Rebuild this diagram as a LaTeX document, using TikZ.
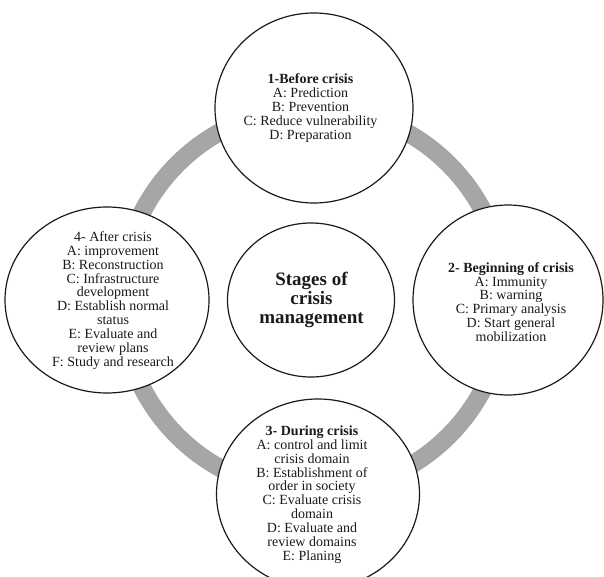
\documentclass[tikz,border=0pt]{standalone}
\usepackage{fontspec}
\setmainfont{Liberation Serif}
\usetikzlibrary{shapes.geometric}
\definecolor{ringgray}{HTML}{A6A6A6}
\definecolor{inkc}{HTML}{1A1A1A}
\begin{document}
\begin{tikzpicture}[x=1pt,y=-1pt,
  stage/.style={ellipse,draw=inkc,line width=1.2pt,fill=white,inner sep=0pt},
  stagetext/.style={align=center,text=inkc,font=\fontsize{14}{13.9}\selectfont,inner sep=0pt},
  hubtext/.style={align=center,text=inkc,font=\fontsize{19}{19}\selectfont\bfseries,inner sep=0pt}]
\useasboundingbox (0,0) rectangle (604,577);
\clip (0,0) rectangle (604,577);
\fill[white] (0,0) rectangle (604,577);
% ring
\draw[ringgray,line width=18pt] (313,300) circle[radius=192];
% stages
\node[stage,minimum width=198pt,minimum height=190pt] (before) at (314,108) {};
\node[stage,minimum width=190pt,minimum height=190pt] (begin) at (508,300) {};
\node[stage,minimum width=203pt,minimum height=190pt] (during) at (318,494) {};
\node[stage,minimum width=204pt,minimum height=186pt] (after) at (107,300) {};
\node[stage,minimum width=167pt,minimum height=154pt] (hub) at (311,300) {};
% texts
\node[stagetext] (beforetext) at (310.5,108) {\textbf{1-Before crisis}\\A: Prediction\\B: Prevention\\C: Reduce vulnerability\\D: Preparation};
\node[stagetext] (begintext) at (511,302) {\textbf{2- Beginning of crisis}\\A: Immunity\\B: warning\\C: Primary analysis\\D: Start general\\mobilization};
\node[stagetext] (duringtext) at (312,494.5) {\textbf{3- During crisis}\\A: control and limit\\crisis domain\\B: Establishment of\\order in society\\C: Evaluate crisis\\domain\\D: Evaluate and\\review domains\\E: Planing};
\node[stagetext] (aftertext) at (113,300.5) {4- After crisis\\A: improvement\\B: Reconstruction\\C: Infrastructure\\development\\D: Establish normal\\status\\E: Evaluate and\\review plans\\F: Study and research};
\node[hubtext] (hubtextn) at (311.5,300) {Stages of\\crisis\\management};
\end{tikzpicture}
\end{document}
